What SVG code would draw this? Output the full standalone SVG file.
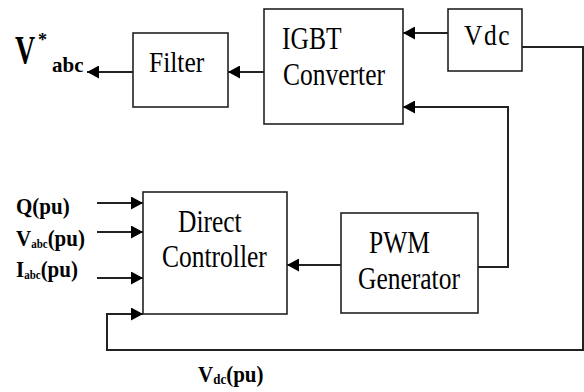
<svg xmlns="http://www.w3.org/2000/svg" width="584" height="392" viewBox="0 0 584 392">
<style>
.box{fill:#fff;stroke:#222;stroke-width:1.6}
.ln{fill:none;stroke:#222;stroke-width:2}
.t{font-family:"Liberation Serif","Times New Roman",serif;font-size:25.5px;fill:#000}
.b{font-family:"Liberation Serif","Times New Roman",serif;font-weight:bold;fill:#000}
</style>
<defs>
<marker id="ah" markerUnits="userSpaceOnUse" markerWidth="13" markerHeight="13" refX="12" refY="6.5" orient="auto">
<path d="M0,0 L12,6.5 L0,13 z" fill="#000"/>
</marker>
</defs>
<rect width="584" height="392" fill="#fff"/>
<g id="connectors">
<line class="ln" x1="133" y1="72" x2="87" y2="72" marker-end="url(#ah)"/>
<line class="ln" x1="264" y1="72" x2="228" y2="72" marker-end="url(#ah)"/>
<line class="ln" x1="448" y1="33" x2="403" y2="33" marker-end="url(#ah)"/>
<polyline class="ln" points="478,267 508,267 508,107 403,107" marker-end="url(#ah)"/>
<line class="ln" x1="341" y1="265" x2="287" y2="265" marker-end="url(#ah)"/>
<polyline class="ln" points="522,47 583,47 583,350 107,350 107,314 143,314" marker-end="url(#ah)"/>
<line class="ln" x1="97" y1="203" x2="143" y2="203" marker-end="url(#ah)"/>
<line class="ln" x1="97" y1="232" x2="143" y2="232" marker-end="url(#ah)"/>
<line class="ln" x1="97" y1="278" x2="143" y2="278" marker-end="url(#ah)"/>
</g>
<g id="filter">
<rect class="box" x="133" y="33" width="95" height="74"/>
<text class="t" transform="translate(149,72) scale(1,1.18)">Filter</text>
</g>
<g id="igbt">
<rect class="box" x="264" y="9" width="139" height="115"/>
<text class="t" transform="translate(282,49) scale(1,1.2)">IGBT</text>
<text class="t" transform="translate(283,85) scale(1,1.2)">Converter</text>
</g>
<g id="vdc">
<rect class="box" x="448" y="9" width="74" height="62"/>
<text class="t" transform="translate(464,45) scale(1,1.15)" letter-spacing="1.5">Vdc</text>
</g>
<g id="direct">
<rect class="box" x="143" y="192" width="144" height="122"/>
<text class="t" transform="translate(178,232) scale(1,1.2)">Direct</text>
<text class="t" transform="translate(162,267) scale(1,1.2)">Controller</text>
</g>
<g id="pwm">
<rect class="box" x="341" y="213" width="137" height="100"/>
<text class="t" transform="translate(369,253) scale(1,1.2)">PWM</text>
<text class="t" transform="translate(358,289) scale(1,1.2)">Generator</text>
</g>
<g id="labels">
<text class="b" font-size="28" transform="translate(15,63) scale(1,1.45)">V</text>
<text class="b" font-size="18" x="38" y="46">*</text>
<text class="b" font-size="21" x="52" y="72">abc</text>
<text class="b" font-size="21" transform="translate(16,214) scale(1,1.12)">Q(pu)</text>
<text class="b" font-size="21" transform="translate(16,246) scale(1,1.12)">V<tspan font-size="11" dy="2">abc</tspan><tspan dy="-2">(pu)</tspan></text>
<text class="b" font-size="21" transform="translate(16,277) scale(1,1.12)">I<tspan font-size="11" dy="2">abc</tspan><tspan dy="-2">(pu)</tspan></text>
<text class="b" font-size="21" transform="translate(198,382) scale(1,1.12)">V<tspan font-size="13" dy="2">dc</tspan><tspan dy="-2">(pu)</tspan></text>
</g>
</svg>
